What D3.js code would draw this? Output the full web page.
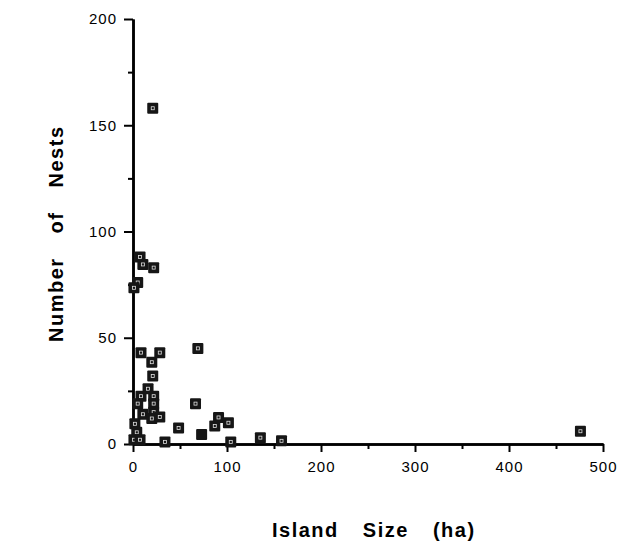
<!DOCTYPE html>
<html>
<head>
<meta charset="utf-8">
<script src="https://cdn.jsdelivr.net/npm/d3@7"></script>
<style>
  body { margin: 0; background: #fff; }
  text { font-family: "Liberation Sans", Arial, sans-serif; fill: #000; }
</style>
</head>
<body>
<div id="chart"></div>
<script>
// island size (ha) and number of nests
var islandSize = [21, 7.5, 10.5, 22, 5, 1, 8.5, 28.5, 69, 20, 21, 16, 8.5, 5, 22, 22, 22, 66.5, 10.5, 20, 28.5,
  2, 4, 1, 7.5, 34, 48.5, 73, 87, 91, 101.5, 104, 135.5, 158, 476];
var nests = [158, 88, 84.5, 83, 76, 73.5, 43, 43, 45, 38.5, 32, 26, 22.5, 19, 22.5, 19, 15, 19, 14, 12, 12.7,
  9.5, 5.5, 2, 2, 1, 7.5, 4.5, 8.5, 12.5, 10, 1, 3, 1.5, 6];
var solid = [27]; // index of the one point drawn without the inner mark

var xTicks = [0, 100, 200, 300, 400, 500];
var yTicks = [0, 50, 100, 150, 200];

var W = 632, H = 543;
var svg = d3.select("#chart").append("svg")
  .attr("width", W).attr("height", H);

var x = d3.scaleLinear().domain([0, 500]).range([133, 603]);
var y = d3.scaleLinear().domain([0, 200]).range([444, 19]);

// axes
var xAxis = d3.axisBottom(x).tickValues(xTicks).tickSize(8).tickPadding(9).tickSizeOuter(0);
var xMinor = d3.axisBottom(x).tickValues([50, 150, 250, 350, 450]).tickSize(5).tickFormat("").tickSizeOuter(0);
var yAxis = d3.axisLeft(y).tickValues(yTicks).tickSize(9).tickPadding(7).tickSizeOuter(0);
var yMinor = d3.axisLeft(y).tickValues([25, 75, 125, 175]).tickSize(5).tickFormat("").tickSizeOuter(0);

function styleAxis(g) {
  g.selectAll("path").attr("stroke", "#000").attr("stroke-width", 2.5);
  g.selectAll("line").attr("stroke", "#000").attr("stroke-width", 2);
  g.selectAll("text").style("font-size", "15px").style("letter-spacing", "1px")
    .style("font-family", "Liberation Sans, Arial, sans-serif");
}

svg.append("g").attr("transform", "translate(0," + y(0) + ")").call(xMinor).call(styleAxis);
svg.append("g").attr("transform", "translate(0," + y(0) + ")").call(xAxis).call(styleAxis);
svg.append("g").attr("transform", "translate(" + x(0) + ",0)").call(yMinor).call(styleAxis);
svg.append("g").attr("transform", "translate(" + x(0) + ",0)").call(yAxis).call(styleAxis);

// points
var pts = svg.append("g").selectAll("g")
  .data(islandSize.map(function(d, i) { return { x: d, y: nests[i], i: i }; }))
  .enter().append("g")
  .attr("transform", function(d) { return "translate(" + x(d.x) + "," + y(d.y) + ")"; });

pts.append("rect")
  .attr("x", -5.5).attr("y", -5.5).attr("width", 11).attr("height", 11).attr("rx", 1)
  .attr("fill", "#161616");

pts.filter(function(d) { return solid.indexOf(d.i) < 0; })
  .append("rect")
  .attr("x", -1.5).attr("y", -1.5).attr("width", 3).attr("height", 3)
  .attr("fill", "none").attr("stroke", "#e0e0e0").attr("stroke-width", 0.8);

// titles
svg.append("text")
  .attr("x", 272).attr("y", 537)
  .style("font-size", "20px").style("font-weight", "bold")
  .style("letter-spacing", "1.5px").style("word-spacing", "17px")
  .text("Island Size (ha)");

svg.append("text")
  .attr("transform", "translate(63,342) rotate(-90)")
  .style("font-size", "20px").style("font-weight", "bold")
  .style("letter-spacing", "1.5px").style("word-spacing", "17px")
  .text("Number of Nests");
</script>
</body>
</html>
